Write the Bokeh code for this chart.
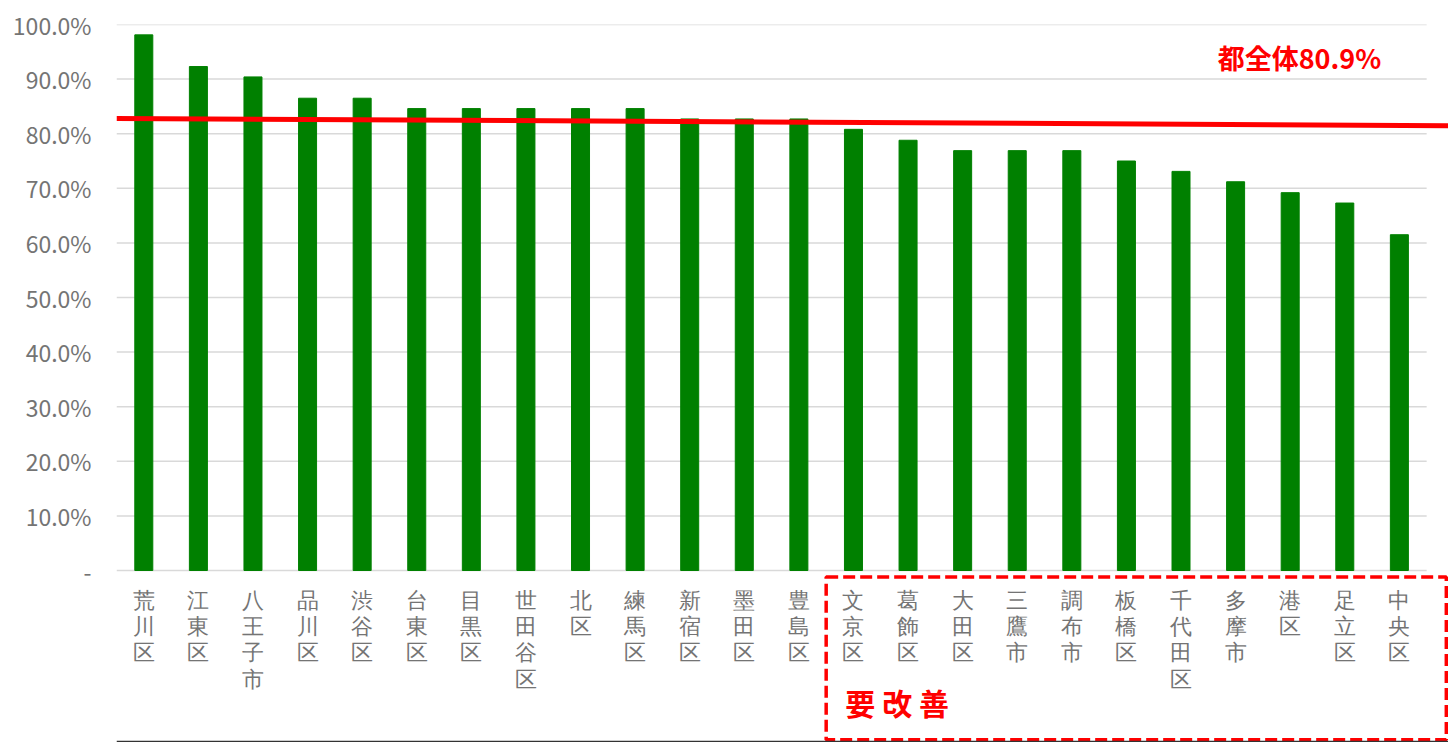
from bokeh.plotting import figure
from bokeh.models import Range1d, FixedTicker, Label
from bokeh.embed import file_html
from bokeh.resources import INLINE

# ---- data ----
wards = ["荒川区", "江東区", "八王子市", "品川区", "渋谷区", "台東区", "目黒区", "世田谷区",
         "北区", "練馬区", "新宿区", "墨田区", "豊島区", "文京区", "葛飾区", "大田区",
         "三鷹市", "調布市", "板橋区", "千代田区", "多摩市", "港区", "足立区", "中央区"]
rates = [98.1, 92.3, 90.4, 86.5, 86.5, 84.6, 84.6, 84.6,
         84.6, 84.6, 82.7, 82.7, 82.7, 80.8, 78.8, 76.9,
         76.9, 76.9, 75.0, 73.1, 71.2, 69.2, 67.3, 61.5]
y_ticks = [0, 10, 20, 30, 40, 50, 60, 70, 80, 90, 100]
y_tick_labels = ["-", "10.0%", "20.0%", "30.0%", "40.0%", "50.0%", "60.0%",
                 "70.0%", "80.0%", "90.0%", "100.0%"]
avg_label = "都全体80.9%"
avg_line_y = [82.8, 81.5]          # drawn reference line (as in the picture)
improve_label = "要 改 善"
improve_first = "文京区"           # first ward in the "needs improvement" box

FONT = "Noto Sans CJK JP"
GRAY = "#747474"
n = len(wards)
x_end = 24.4
xc = [i + 0.5 for i in range(n)]   # category centres on a numeric scale

W, H = 1448, 742
p = figure(width=W, height=H, output_backend="svg", toolbar_location=None,
           x_range=Range1d(0, x_end), y_range=Range1d(-31.5, 100),
           min_border_left=116, min_border_right=0, min_border_top=24,
           min_border_bottom=0)
p.outline_line_color = None
p.background_fill_color = "white"
p.border_fill_color = "white"
p.xaxis.visible = False
p.xgrid.grid_line_color = None
p.ygrid.grid_line_color = None

# horizontal gridlines across the categories only
p.segment(x0=0, x1=n, y0=y_ticks, y1=y_ticks, line_color="#d9d9d9", line_width=1.5)

p.vbar(x=xc, top=rates, width=0.33, color="#008000")

slope = (avg_line_y[1] - avg_line_y[0]) / n
p.line(x=[0, x_end], y=[avg_line_y[0], avg_line_y[0] + slope * x_end],
       line_color="#ff0000", line_width=5)

# y axis
p.yaxis.ticker = FixedTicker(ticks=y_ticks)
p.yaxis.major_label_overrides = dict(zip(y_ticks, y_tick_labels))
p.yaxis.axis_line_color = None
p.yaxis.major_tick_line_color = None
p.yaxis.minor_tick_line_color = None
p.yaxis.major_label_text_font = FONT
p.yaxis.major_label_text_font_size = "23px"
p.yaxis.major_label_text_color = GRAY
p.yaxis.major_label_standoff = 19

# category labels, written vertically
p.text(x=xc, y=[-3.2] * n, text=["\n".join(w) for w in wards],
       text_font=FONT, text_font_size="22px", text_color=GRAY,
       text_align="center", text_baseline="top", text_line_height=1.05)

p.add_layout(Label(x=21.67, y=94, text=avg_label,
                   text_font=FONT, text_font_size="27px", text_font_style="bold",
                   text_color="#ff0000", text_align="center", text_baseline="middle"))

k = wards.index(improve_first)
p.quad(left=[k], right=[24.36], top=[-1.2], bottom=[-31.0],
       fill_alpha=0, line_color="#ff0000", line_width=3.5, line_dash="12 5")
p.add_layout(Label(x=k + 1.3, y=-24.0, text=improve_label,
                   text_font=FONT, text_font_size="30px", text_font_style="bold",
                   text_color="#ff0000", text_align="center", text_baseline="middle"))

# bottom rule
p.line(x=[0, x_end], y=[-31.35, -31.35], line_color="#333333", line_width=2)

open("out.html", "w").write(file_html(p, INLINE))
